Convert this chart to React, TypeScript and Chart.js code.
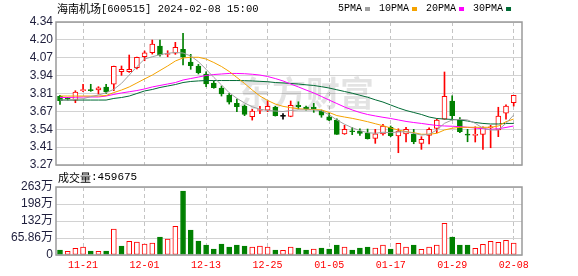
import React, { useEffect, useRef } from "react";
import { Chart, registerables } from "chart.js";

Chart.register(...registerables);

// ---------- data ----------
const DATES = [
  "11-16", "11-17", "11-20", "11-21", "11-22", "11-23", "11-24", "11-27", "11-28", "11-29",
  "11-30", "12-01", "12-04", "12-05", "12-06", "12-07", "12-08", "12-11", "12-12", "12-13",
  "12-14", "12-15", "12-18", "12-19", "12-20", "12-21", "12-22", "12-25", "12-26", "12-27",
  "12-28", "12-29", "01-02", "01-03", "01-04", "01-05", "01-08", "01-09", "01-10", "01-11",
  "01-12", "01-15", "01-16", "01-17", "01-18", "01-19", "01-22", "01-23", "01-24", "01-25",
  "01-26", "01-29", "01-30", "01-31", "02-01", "02-02", "02-05", "02-06", "02-07", "02-08",
];

const OPEN = [
  3.784, 3.770, 3.756, 3.826, 3.830, 3.831, 3.853, 3.874, 3.968, 3.968,
  3.998, 4.080, 4.110, 4.160, 4.097, 4.106, 4.136, 4.041, 4.011, 3.951,
  3.883, 3.846, 3.794, 3.731, 3.711, 3.631, 3.678, 3.681, 3.701, 3.634,
  3.634, 3.717, 3.704, 3.704, 3.676, 3.631, 3.606, 3.502, 3.524, 3.522,
  3.507, 3.469, 3.502, 3.552, 3.487, 3.502, 3.502, 3.432, 3.492, 3.544,
  3.612, 3.749, 3.606, 3.496, 3.492, 3.499, 3.549, 3.532, 3.657, 3.736,
];
const HIGH = [
  3.791, 3.776, 3.826, 3.874, 3.874, 3.856, 3.874, 4.010, 4.011, 4.093,
  4.078, 4.123, 4.205, 4.205, 4.125, 4.188, 4.255, 4.098, 4.023, 3.968,
  3.898, 3.861, 3.806, 3.764, 3.719, 3.687, 3.709, 3.751, 3.709, 3.654,
  3.749, 3.743, 3.711, 3.731, 3.681, 3.657, 3.616, 3.567, 3.551, 3.541,
  3.539, 3.537, 3.574, 3.562, 3.541, 3.552, 3.537, 3.482, 3.549, 3.614,
  3.966, 3.788, 3.624, 3.537, 3.556, 3.556, 3.567, 3.702, 3.721, 3.791,
];
const LOW = [
  3.724, 3.755, 3.736, 3.818, 3.821, 3.801, 3.806, 3.826, 3.941, 3.963,
  3.988, 4.050, 4.100, 4.085, 4.080, 4.098, 4.018, 3.986, 3.951, 3.856,
  3.844, 3.786, 3.726, 3.669, 3.639, 3.606, 3.654, 3.669, 3.636, 3.612,
  3.631, 3.689, 3.681, 3.664, 3.627, 3.601, 3.499, 3.499, 3.497, 3.492,
  3.464, 3.432, 3.494, 3.482, 3.362, 3.442, 3.429, 3.387, 3.427, 3.511,
  3.612, 3.606, 3.511, 3.444, 3.442, 3.387, 3.399, 3.482, 3.612, 3.711,
];
const CLOSE = [
  3.751, 3.765, 3.816, 3.829, 3.826, 3.848, 3.818, 4.008, 3.986, 3.986,
  4.076, 4.110, 4.175, 4.093, 4.100, 4.151, 4.076, 4.013, 3.961, 3.876,
  3.848, 3.801, 3.741, 3.706, 3.649, 3.674, 3.682, 3.709, 3.639, 3.634,
  3.717, 3.706, 3.691, 3.689, 3.642, 3.606, 3.499, 3.537, 3.519, 3.507,
  3.467, 3.504, 3.562, 3.489, 3.524, 3.537, 3.444, 3.462, 3.537, 3.606,
  3.784, 3.639, 3.519, 3.494, 3.496, 3.549, 3.556, 3.636, 3.711, 3.791,
];

const MA5 = [
  3.756, 3.756, 3.762, 3.766, 3.781, 3.794, 3.811, 3.836, 3.881, 3.943,
  4.006, 4.063, 4.080, 4.095, 4.106, 4.112, 4.108, 4.086, 4.043, 3.986,
  3.926, 3.869, 3.811, 3.769, 3.734, 3.706, 3.687, 3.678, 3.674, 3.670,
  3.678, 3.682, 3.682, 3.682, 3.676, 3.646, 3.607, 3.575, 3.549, 3.527,
  3.512, 3.507, 3.515, 3.512, 3.517, 3.519, 3.507, 3.494, 3.500, 3.532,
  3.582, 3.607, 3.612, 3.607, 3.582, 3.545, 3.532, 3.532, 3.582, 3.644,
];
const MA10 = [
  3.786, 3.786, 3.786, 3.786, 3.786, 3.786, 3.790, 3.812, 3.831, 3.854,
  3.884, 3.914, 3.943, 3.977, 4.011, 4.048, 4.071, 4.076, 4.076, 4.063,
  4.037, 4.007, 3.970, 3.925, 3.880, 3.831, 3.786, 3.753, 3.726, 3.709,
  3.699, 3.691, 3.687, 3.685, 3.682, 3.663, 3.640, 3.629, 3.619, 3.607,
  3.594, 3.579, 3.564, 3.547, 3.532, 3.519, 3.512, 3.500, 3.500, 3.507,
  3.532, 3.545, 3.552, 3.552, 3.552, 3.552, 3.552, 3.562, 3.594, 3.614,
];
const MA20 = [
  3.775, 3.775, 3.777, 3.779, 3.779, 3.779, 3.786, 3.798, 3.809, 3.818,
  3.827, 3.839, 3.854, 3.865, 3.876, 3.887, 3.906, 3.917, 3.928, 3.940,
  3.947, 3.951, 3.955, 3.955, 3.953, 3.949, 3.943, 3.932, 3.917, 3.899,
  3.876, 3.854, 3.831, 3.809, 3.783, 3.756, 3.730, 3.704, 3.682, 3.663,
  3.648, 3.637, 3.627, 3.618, 3.607, 3.596, 3.588, 3.581, 3.573, 3.566,
  3.562, 3.560, 3.557, 3.552, 3.547, 3.541, 3.537, 3.541, 3.551, 3.562,
];
const MA30 = [
  3.756, 3.756, 3.756, 3.756, 3.756, 3.756, 3.756, 3.768, 3.775, 3.786,
  3.805, 3.824, 3.835, 3.850, 3.861, 3.872, 3.887, 3.895, 3.899, 3.902,
  3.902, 3.902, 3.902, 3.902, 3.901, 3.899, 3.896, 3.893, 3.887, 3.884,
  3.880, 3.876, 3.870, 3.865, 3.856, 3.846, 3.833, 3.820, 3.807, 3.792,
  3.777, 3.758, 3.741, 3.719, 3.697, 3.678, 3.663, 3.648, 3.629, 3.618,
  3.614, 3.611, 3.607, 3.599, 3.588, 3.581, 3.577, 3.577, 3.581, 3.581,
];

const VOLUME = [
  194000, 143000, 260000, 310000, 155000, 143000, 155000, 1007000, 349000, 530000,
  504000, 426000, 465000, 697000, 620000, 1110000, 2480000, 969000, 540000, 387000,
  232000, 426000, 310000, 387000, 349000, 310000, 349000, 310000, 194000, 180000,
  310000, 270000, 194000, 232000, 270000, 232000, 387000, 310000, 194000, 270000,
  310000, 270000, 387000, 232000, 452000, 310000, 387000, 220000, 310000, 387000,
  1227000, 697000, 387000, 387000, 260000, 413000, 530000, 490000, 569000, 459675,
];
// 1 = red hollow bar, 0 = green bar (as seen in the volume panel)
const VOL_UP = [
  0, 1, 1, 1, 0, 1, 0, 1, 0, 1,
  1, 1, 1, 0, 1, 1, 0, 0, 0, 0,
  0, 0, 0, 0, 0, 1, 1, 1, 0, 1,
  1, 0, 0, 1, 0, 0, 0, 1, 0, 0,
  0, 1, 1, 0, 1, 1, 0, 1, 1, 1,
  1, 0, 0, 0, 1, 1, 1, 1, 1, 1,
];

const X_TICKS = ["11-21", "12-01", "12-13", "12-25", "01-05", "01-17", "01-29", "02-08"];
const PRICE_TICKS = ["3.27", "3.41", "3.54", "3.67", "3.81", "3.94", "4.07", "4.20", "4.34"];
const VOL_TICKS = ["0", "65.86万", "132万", "198万", "263万"];
const PRICE_MIN = 3.27;
const PRICE_MAX = 4.34;
const VOL_MAX = 2634400;

const TITLE_NAME = "海南机场";
const TITLE_REST = "[600515] 2024-02-08 15:00";
const LEGEND_LABELS = ["5PMA", "10PMA", "20PMA", "30PMA"];
const VOL_TITLE = "成交量";
const LAST_VOLUME = "459675";
const WATERMARK = "东方财富";

// ---------- styles ----------
const UP = "#ff0000";
const DOWN = "#008000";
const FLAT = "#000000";
const MA_COLORS = ["#a0a0a0", "#f5a300", "#ff00ff", "#006b35"];
const GRID = "#d2d2d2";
const VGRID = "#c4c4c4";
const FRAME = "#9a9a9a";
const LABEL = "#1e1e3c";
const X_MIN = -0.52;
const X_MAX = 60.08;
const MONO = "'Liberation Mono', monospace";
const CJK = "'Noto Sans CJK SC', sans-serif";

function candleColor(i: number) {
  if (CLOSE[i] > OPEN[i]) return UP;
  if (CLOSE[i] < OPEN[i]) return DOWN;
  return FLAT;
}

function xScale(showLabels: boolean): any {
  return {
    type: "linear",
    min: X_MIN,
    max: X_MAX,
    offset: false,
    afterBuildTicks: (s: any) => {
      s.ticks = X_TICKS.map((t) => ({ value: DATES.indexOf(t) }));
    },
    afterFit: (s: any) => {
      s.height = showLabels ? 21 : 0;
    },
    grid: { color: VGRID, drawTicks: false, lineWidth: 1, offset: false },
    border: { display: false, dash: [4, 3] },
    ticks: {
      display: showLabels,
      autoSkip: false,
      maxRotation: 0,
      padding: 4,
      color: UP,
      font: { family: MONO, size: 10 },
      callback: (v: number) => DATES[Math.round(v)] ?? "",
    },
  };
}

function yTicks(labels: string[], family: string): any {
  return {
    padding: 3,
    autoSkip: false,
    color: LABEL,
    font: { family, size: 12 },
    callback: (_v: any, i: number) => labels[i],
  };
}

function frame(chart: any) {
  const { ctx, chartArea: a } = chart;
  ctx.save();
  ctx.strokeStyle = FRAME;
  ctx.lineWidth = 1.5;
  ctx.strokeRect(a.left, a.top, a.right - a.left, a.bottom - a.top);
  ctx.restore();
}

const priceDecor = {
  id: "priceDecor",
  beforeDatasetsDraw(chart: any) {
    const { ctx } = chart;
    ctx.save();
    ctx.font = `bold 34px ${CJK}`;
    ctx.fillStyle = "rgba(0,0,0,0.11)";
    ctx.textBaseline = "middle";
    ctx.fillText(WATERMARK, 238, 93);
    ctx.restore();
  },
  afterDraw(chart: any) {
    frame(chart);
    const { ctx } = chart;
    ctx.save();
    ctx.fillStyle = "#000";
    ctx.textBaseline = "middle";
    ctx.font = `11px ${CJK}`;
    ctx.fillText(TITLE_NAME, 57, 9);
    const w = ctx.measureText(TITLE_NAME).width;
    ctx.font = `10.5px ${MONO}`;
    ctx.fillText(TITLE_REST, 57 + w, 9);

    ctx.font = `10px ${MONO}`;
    let x = 338;
    LEGEND_LABELS.forEach((lab, k) => {
      ctx.fillStyle = "#000";
      ctx.fillText(lab, x, 8.5);
      x += ctx.measureText(lab).width + 3;
      ctx.fillStyle = MA_COLORS[k];
      ctx.fillRect(x, 7, 5, 4);
      x += 5 + 9;
    });
    ctx.restore();
  },
};

const volDecor = {
  id: "volDecor",
  afterDraw(chart: any) {
    frame(chart);
    const { ctx } = chart;
    ctx.save();
    ctx.fillStyle = "#000";
    ctx.textBaseline = "middle";
    ctx.font = `11px ${CJK}`;
    ctx.fillText(VOL_TITLE, 58, 177.5);
    const w = ctx.measureText(VOL_TITLE).width;
    ctx.font = `11px ${MONO}`;
    ctx.fillText(":" + LAST_VOLUME, 58 + w, 177.5);
    ctx.restore();
  },
};

export default function App() {
  const priceRef = useRef<HTMLCanvasElement>(null);
  const volRef = useRef<HTMLCanvasElement>(null);

  useEffect(() => {
    const colors = DATES.map((_, i) => candleColor(i));
    const priceChart = new Chart(priceRef.current as HTMLCanvasElement, {
      type: "bar",
      data: {
        datasets: [
          ...[MA5, MA10, MA20, MA30].map((ma, k) => ({
            type: "line" as const,
            data: ma.map((v, i) => ({ x: i, y: v })),
            borderColor: MA_COLORS[k],
            borderWidth: 1,
            pointRadius: 0,
            tension: 0,
            order: 1,
          })),
          {
            type: "bar" as const,
            data: DATES.map((_, i) => ({ x: i, y: [OPEN[i], CLOSE[i]] })),
            backgroundColor: DATES.map((_, i) => (CLOSE[i] > OPEN[i] ? "#ffffff" : colors[i])),
            borderColor: colors,
            borderWidth: 1,
            borderSkipped: false,
            barThickness: 5,
            minBarLength: 1,
            grouped: false,
            order: 2,
          } as any,
          {
            type: "bar" as const,
            data: DATES.map((_, i) => ({ x: i, y: [LOW[i], HIGH[i]] })),
            backgroundColor: colors,
            borderWidth: 0,
            barThickness: 1,
            grouped: false,
            order: 3,
          } as any,
        ],
      },
      options: {
        responsive: false,
        animation: false,
        devicePixelRatio: 1,
        events: [],
        layout: { padding: { top: 22, right: 56, bottom: 111, left: 0 } },
        plugins: { legend: { display: false }, tooltip: { enabled: false }, title: { display: false } },
        scales: {
          x: xScale(false),
          y: {
            type: "linear",
            min: PRICE_MIN,
            max: PRICE_MAX,
            afterBuildTicks: (s: any) => {
              const n = PRICE_TICKS.length - 1;
              s.ticks = PRICE_TICKS.map((_, k) => ({ value: PRICE_MIN + (k * (PRICE_MAX - PRICE_MIN)) / n }));
            },
            afterFit: (s: any) => {
              s.width = 56;
            },
            grid: { color: GRID, drawTicks: false },
            border: { display: false },
            ticks: yTicks(PRICE_TICKS, "'Liberation Sans', sans-serif"),
          },
        },
      } as any,
      plugins: [priceDecor],
    });

    const volChart = new Chart(volRef.current as HTMLCanvasElement, {
      type: "bar",
      data: {
        datasets: [
          {
            data: VOLUME.map((v, i) => ({ x: i, y: v })),
            backgroundColor: VOL_UP.map((u) => (u ? "#ffffff" : DOWN)),
            borderColor: VOL_UP.map((u) => (u ? UP : DOWN)),
            borderWidth: 1,
            borderSkipped: false,
            barThickness: 5,
          } as any,
        ],
      },
      options: {
        responsive: false,
        animation: false,
        devicePixelRatio: 1,
        events: [],
        layout: { padding: { top: 187, right: 56, bottom: 0, left: 0 } },
        plugins: { legend: { display: false }, tooltip: { enabled: false } },
        scales: {
          x: xScale(true),
          y: {
            type: "linear",
            min: 0,
            max: VOL_MAX,
            afterBuildTicks: (s: any) => {
              const n = VOL_TICKS.length - 1;
              s.ticks = VOL_TICKS.map((_, k) => ({ value: (k * VOL_MAX) / n }));
            },
            afterFit: (s: any) => {
              s.width = 56;
            },
            grid: { color: GRID, drawTicks: false },
            border: { display: false },
            ticks: yTicks(VOL_TICKS, "'Liberation Sans', 'Noto Sans CJK SC', sans-serif"),
          },
        },
      } as any,
      plugins: [volDecor],
    });

    return () => {
      priceChart.destroy();
      volChart.destroy();
    };
  }, []);

  const canvasStyle: React.CSSProperties = { position: "absolute", left: 0, top: 0 };
  return (
    <div style={{ position: "fixed", left: 0, top: 0, width: 578, height: 276, background: "#fff" }}>
      <canvas ref={priceRef} width={578} height={276} style={canvasStyle} />
      <canvas ref={volRef} width={578} height={276} style={canvasStyle} />
    </div>
  );
}
